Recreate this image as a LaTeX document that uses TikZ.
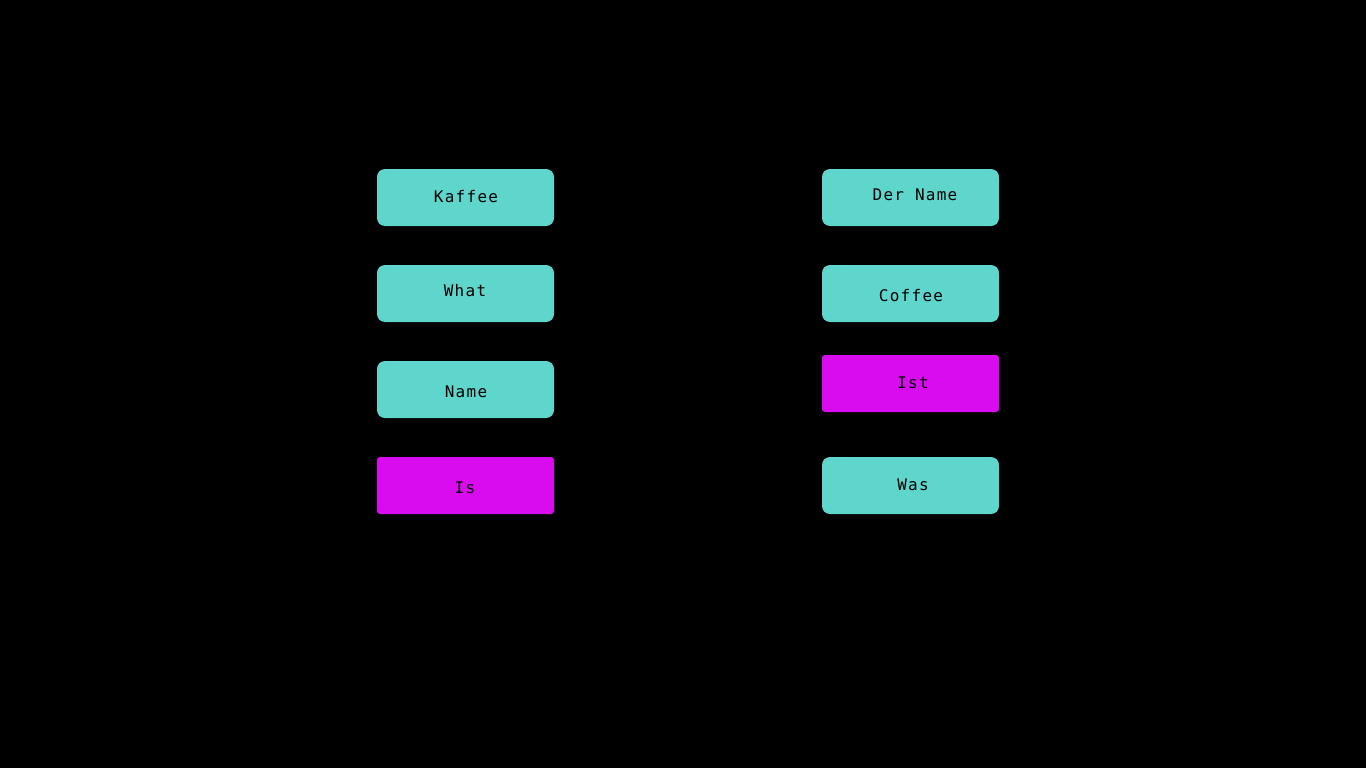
\documentclass[tikz,border=0pt]{standalone}
\usepackage{fontspec}
\newfontfamily\monofont[LetterSpace=8]{DejaVu Sans Mono}
\definecolor{tealbox}{HTML}{5FD6CB}
\definecolor{magbox}{HTML}{D90CF0}
\begin{document}
\begin{tikzpicture}[x=1pt,y=-1pt,
  cbox/.style={fill=tealbox, rounded corners=8pt, minimum width=177pt, minimum height=57pt, inner sep=0pt},
  mbox/.style={cbox, fill=magbox, rounded corners=3pt},
  lbl/.style={font=\monofont\fontsize{16}{18}\selectfont, text=black, inner sep=0pt}]
\fill[black] (0,0) rectangle (1366,768);
\useasboundingbox (0,0) rectangle (1366,768);
% left column
\node[cbox] (kaffee) at (465.5,197.5) {};
\node[lbl] (kaffeeT) at (466,197) {Kaffee};
\node[cbox] (what) at (465.5,293.5) {};
\node[lbl] (whatT) at (465,291) {What};
\node[cbox] (name) at (465.5,389.5) {};
\node[lbl] (nameT) at (466,392) {Name};
\node[mbox] (is) at (465.5,485.5) {};
\node[lbl] (isT) at (465,488) {Is};
% right column
\node[cbox] (dername) at (910.5,197.5) {};
\node[lbl] (dernameT) at (915,195) {Der Name};
\node[cbox] (coffee) at (910.5,293.5) {};
\node[lbl] (coffeeT) at (911,296) {Coffee};
\node[mbox] (ist) at (910.5,383.5) {};
\node[lbl] (istT) at (913,383) {Ist};
\node[cbox] (was) at (910.5,485.5) {};
\node[lbl] (wasT) at (913,485) {Was};
\end{tikzpicture}
\end{document}
